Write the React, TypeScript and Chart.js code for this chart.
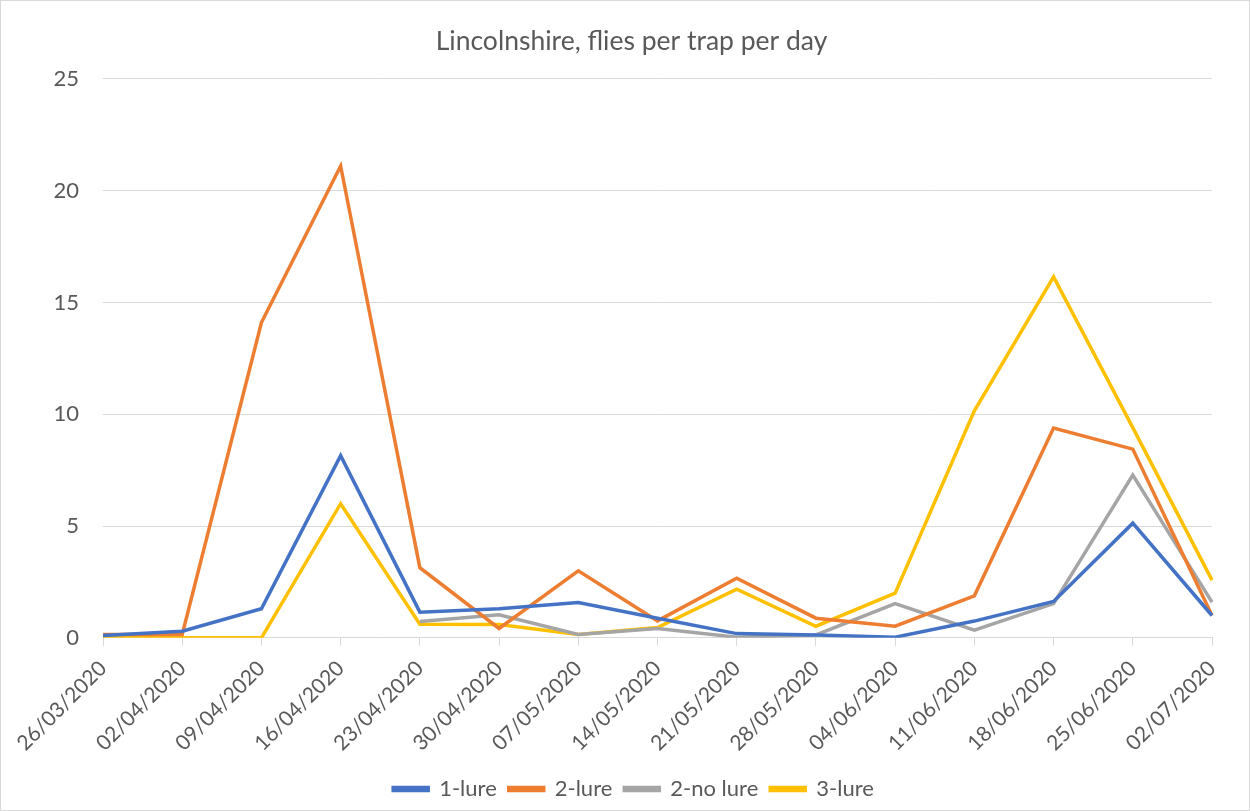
import React, { useEffect, useRef } from "react";
import { Chart, registerables } from "chart.js";

Chart.register(...registerables);

const dates = [
  "26/03/2020", "02/04/2020", "09/04/2020", "16/04/2020", "23/04/2020",
  "30/04/2020", "07/05/2020", "14/05/2020", "21/05/2020", "28/05/2020",
  "04/06/2020", "11/06/2020", "18/06/2020", "25/06/2020", "02/07/2020",
];
const oneLure = [0.1, 0.3, 1.3, 8.15, 1.15, 1.3, 1.58, 0.88, 0.19, 0.13, 0.03, 0.75, 1.63, 5.13, 1.0];
const twoLure = [0.15, 0.15, 14.1, 21.1, 3.14, 0.42, 3.0, 0.76, 2.67, 0.88, 0.52, 1.88, 9.38, 8.44, 1.0];
const twoNoLure = [null, null, null, null, 0.73, 1.03, 0.15, 0.42, 0.03, 0.13, 1.53, 0.34, 1.53, 7.28, 1.6];
const threeLure = [0, 0, 0, 6.0, 0.61, 0.6, 0.15, 0.46, 2.18, 0.52, 2.0, 10.15, 16.14, 9.4, 2.58];
const seriesNames = ["1-lure", "2-lure", "2-no lure", "3-lure"];
const seriesColors = ["#4472C4", "#ED7D31", "#A5A5A5", "#FFC000"];
const yTicks = [0, 5, 10, 15, 20, 25];

const FONT = "Lato, 'Open Sans', sans-serif";
const TEXT = "#595959";

const centerShift = {
  id: "centerShift",
  afterLayout(chart: any) {
    if (chart.titleBlock) {
      chart.titleBlock.left += 25;
      chart.titleBlock.right += 25;
    }
    if (chart.legend) {
      chart.legend.left += 27;
      chart.legend.right += 27;
    }
  },
};

export default function App() {
  const ref = useRef<HTMLCanvasElement>(null);
  useEffect(() => {
    document.body.style.margin = "0";
    const values = [oneLure, twoLure, twoNoLure, threeLure];
    const chart = new Chart(ref.current!, {
      type: "line",
      data: {
        labels: dates,
        datasets: seriesNames.map((n, i) => ({
          label: n,
          data: values[i] as any,
          borderColor: seriesColors[i],
          backgroundColor: seriesColors[i],
          borderWidth: 3.5,
          pointRadius: 0,
          tension: 0,
          spanGaps: false,
        })),
      },
      plugins: [centerShift],
      options: {
        animation: false,
        responsive: false,
        maintainAspectRatio: false,
        layout: { padding: { left: 0, right: 37, top: 0, bottom: 0 } },
        plugins: {
          title: {
            display: true,
            text: "Lincolnshire, flies per trap per day",
            color: TEXT,
            font: { family: FONT, size: 26.5, weight: "normal" },
            padding: { top: 25, bottom: 21 },
          },
          legend: {
            position: "bottom",
            labels: {
              color: TEXT,
              font: { family: FONT, size: 22 },
              boxWidth: 35,
              boxHeight: 3,
              padding: 12,
            },
          },
          tooltip: { enabled: false },
        },
        scales: {
          x: {
            offset: false,
            grid: {
              drawOnChartArea: false,
              drawTicks: true,
              tickLength: 8,
              color: "#D9D9D9",
            },
            border: { color: "#D9D9D9", width: 1 },
            ticks: {
              color: TEXT,
              font: { family: FONT, size: 21 },
              minRotation: 45,
              maxRotation: 45,
              autoSkip: false,
              padding: 10,
            },
          },
          y: {
            min: 0,
            max: 25,
            afterFit: (s: any) => { s.width = 102; },
            afterBuildTicks: (s: any) => { s.ticks = yTicks.map((v) => ({ value: v })); },
            grid: { color: "#D9D9D9", drawTicks: false },
            border: { display: false },
            ticks: {
              color: TEXT,
              font: { family: FONT, size: 22 },
              padding: 24,
            },
          },
        },
      },
    });
    return () => chart.destroy();
  }, []);
  return (
    <div style={{ position: "absolute", left: 0, top: 0, width: 1250, height: 811, boxSizing: "border-box", border: "1px solid #D9D9D9", background: "#fff" }}>
      <canvas ref={ref} width={1248} height={809} style={{ display: "block" }} />
    </div>
  );
}
